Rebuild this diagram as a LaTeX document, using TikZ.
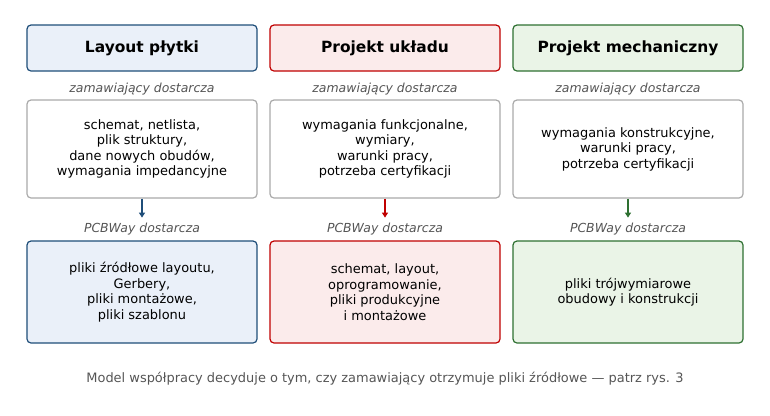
\documentclass[tikz,border=0pt]{standalone}
\usepackage{fontspec}
\setmainfont{DejaVu Sans}
\usetikzlibrary{arrows.meta}
\definecolor{cb}{HTML}{1F4E79}\definecolor{fb}{HTML}{EAF0F9}
\definecolor{cr}{HTML}{C00000}\definecolor{fr}{HTML}{FBEBEB}
\definecolor{cg}{HTML}{2E7031}\definecolor{fg}{HTML}{EAF4E7}
\definecolor{gr}{HTML}{AAAAAA}\definecolor{tx}{HTML}{555555}
\begin{document}
\begin{tikzpicture}[x=1bp,y=-1bp,
 hd/.style={draw=#1,line width=1.2bp,rounded corners=4bp,minimum width=230bp,minimum height=46bp,font=\fontsize{15.5}{18}\selectfont\bfseries},
 mid/.style={draw=gr,line width=1.2bp,fill=white,rounded corners=4bp,minimum width=230bp,minimum height=98bp,align=center,font=\fontsize{13}{15.5}\selectfont},
 bot/.style={draw=#1,line width=1.2bp,rounded corners=4bp,minimum width=230bp,minimum height=102bp,align=center,font=\fontsize{13}{15.5}\selectfont},
 lab/.style={text=tx,font=\fontsize{12.5}{15}\selectfont\itshape},
 arr/.style={draw=#1,line width=1.5bp,-{Triangle[length=5bp,width=6bp]}}]
\useasboundingbox (0,0) rectangle (770,415);
\foreach \i/\x/\c/\f/\h in {1/142/cb/fb/Layout płytki,2/385/cr/fr/Projekt układu,3/628/cg/fg/Projekt mechaniczny}{
 \node[hd=\c,fill=\f] (h\i) at (\x,48) {\h};
 \node[lab] (z\i) at (\x,89) {zamawiający dostarcza};
 \node[lab] (p\i) at (\x,229) {PCBWay dostarcza};
}
\node[mid] (m1) at (142,149) {schemat, netlista,\\plik struktury,\\dane nowych obudów,\\wymagania impedancyjne};
\node[mid] (m2) at (385,149) {wymagania funkcjonalne,\\wymiary,\\warunki pracy,\\potrzeba certyfikacji};
\node[mid] (m3) at (628,149) {wymagania konstrukcyjne,\\warunki pracy,\\potrzeba certyfikacji};
\node[bot=cb,fill=fb] (b1) at (142,292) {pliki źródłowe layoutu,\\Gerbery,\\pliki montażowe,\\pliki szablonu};
\node[bot=cr,fill=fr] (b2) at (385,292) {schemat, layout,\\oprogramowanie,\\pliki produkcyjne\\i montażowe};
\node[bot=cg,fill=fg] (b3) at (628,292) {pliki trójwymiarowe\\obudowy i konstrukcji};
\draw[arr=cb] (m1.south) -- ++(0,19);
\draw[arr=cr] (m2.south) -- ++(0,19);
\draw[arr=cg] (m3.south) -- ++(0,19);
\node[text=tx,font=\fontsize{13}{15.5}\selectfont] (cap) at (385,379) {Model współpracy decyduje o tym, czy zamawiający otrzymuje pliki źródłowe — patrz rys. 3};
\end{tikzpicture}
\end{document}
